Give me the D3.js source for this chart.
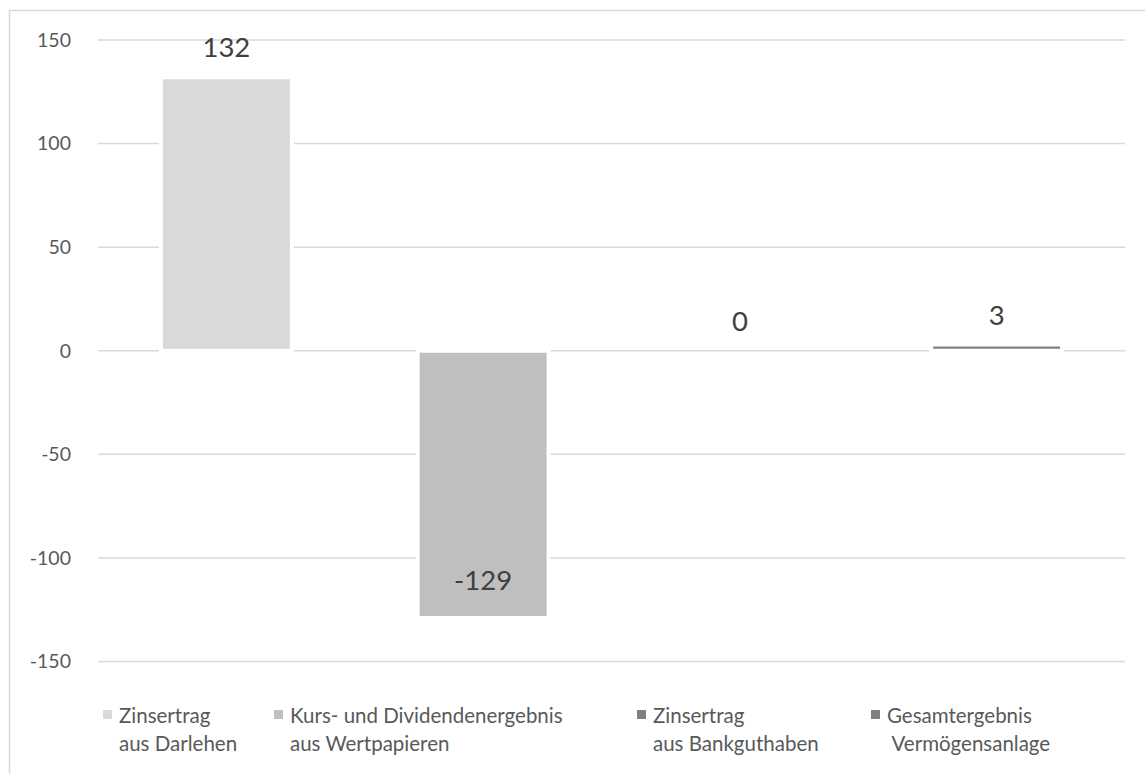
<!DOCTYPE html>
<html lang="de">
  <head>
    <meta charset="UTF-8" />
    <title>Vermögensanlage</title>
    <script src="https://d3js.org/d3.v7.min.js"></script>
    <style>
      body {
        margin: 0;
        background: #fff;
        font-family: Lato, "Open Sans", sans-serif;
      }
      svg {
        display: block;
      }
    </style>
  </head>
  <body>
    <svg id="chart" width="1145" height="774"></svg>

    <script>
      const categories = [
        ["Zinsertrag", "aus Darlehen"],
        ["Kurs- und Dividendenergebnis", "aus Wertpapieren"],
        ["Zinsertrag", "aus Bankguthaben"],
        ["Gesamtergebnis", "\u00a0Vermögensanlage"],
      ];
      const values = [132, -129, 0, 3];
      const colors = ["#d9d9d9", "#bfbfbf", "#7f7f7f", "#7f7f7f"];
      const yTicks = [150, 100, 50, 0, -50, -100, -150];
      const legendX = [103, 274, 637, 871];

      const svg = d3.select("#chart");
      const width = +svg.attr("width");
      const height = +svg.attr("height");
      const textColor = "#595959";

      // outer chart frame
      svg
        .append("rect")
        .attr("x", 9.5)
        .attr("y", 10.5)
        .attr("width", width)
        .attr("height", height)
        .attr("fill", "#fff")
        .attr("stroke", "#d9d9d9")
        .attr("stroke-width", 1.5);

      const x = d3
        .scaleBand()
        .domain(d3.range(categories.length))
        .range([98, 1125])
        .paddingInner(0.49)
        .paddingOuter(0.245);

      const y = d3.scaleLinear().domain([-150, 150]).range([661.5, 40]);

      // gridlines
      svg
        .append("g")
        .selectAll("line")
        .data(yTicks)
        .join("line")
        .attr("x1", 98)
        .attr("x2", 1125)
        .attr("y1", (d) => y(d))
        .attr("y2", (d) => y(d))
        .attr("stroke", "#d9d9d9")
        .attr("stroke-width", 1.5);

      // y axis labels (plain hyphen like the original)
      const yAxis = d3
        .axisLeft(y)
        .tickValues(yTicks)
        .tickSize(0)
        .tickPadding(0)
        .tickFormat((d) => String(d));
      const gy = svg.append("g").attr("transform", "translate(71,0)").call(yAxis);
      gy.select(".domain").remove();
      gy.selectAll("text")
        .attr("fill", textColor)
        .style("font-size", "19.5px")
        .style("font-family", "Lato, 'Open Sans', sans-serif");

      // bars
      svg
        .append("g")
        .selectAll("rect")
        .data(values)
        .join("rect")
        .attr("x", (d, i) => x(i))
        .attr("width", x.bandwidth())
        .attr("y", (d) => y(Math.max(0, d)))
        .attr("height", (d) => Math.abs(y(d) - y(0)))
        .attr("fill", (d, i) => colors[i])
        .attr("stroke", "#fff")
        .attr("stroke-width", 4);

      // value labels
      svg
        .append("g")
        .selectAll("text")
        .data(values)
        .join("text")
        .attr("x", (d, i) => x(i) + x.bandwidth() / 2)
        .attr("y", (d) => (d >= 0 ? y(d) - 20 : y(d) - 28))
        .attr("text-anchor", "middle")
        .attr("fill", "#404040")
        .style("font-size", "27.5px")
        .text((d) => d);

      // legend
      const legend = svg
        .append("g")
        .selectAll("g")
        .data(categories)
        .join("g")
        .attr("transform", (d, i) => `translate(${legendX[i]},0)`);

      legend
        .append("rect")
        .attr("x", 0)
        .attr("y", 710)
        .attr("width", 9)
        .attr("height", 9)
        .attr("fill", (d, i) => colors[i]);

      legend
        .append("text")
        .attr("fill", textColor)
        .style("font-size", "20.5px")
        .selectAll("tspan")
        .data((d) => d)
        .join("tspan")
        .attr("x", 16)
        .attr("y", (d, j) => 723 + j * 28)
        .text((d) => d);
    </script>
  </body>
</html>
